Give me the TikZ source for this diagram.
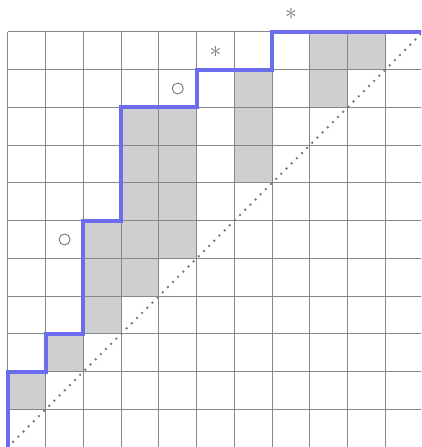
\documentclass[tikz,border=0pt]{standalone}
\usepackage{graphicx}
\definecolor{gridc}{RGB}{135,135,135}
\definecolor{cellc}{RGB}{206,207,209}
\definecolor{pathc}{RGB}{108,108,238}
\definecolor{markc}{RGB}{120,120,120}
\tikzset{
  gridline/.style={draw=gridc, line width=0.75pt},
  cellbox/.style={fill=cellc},
  diagline/.style={draw=markc, line width=2pt, line cap=round, dash pattern=on 0pt off 5.5pt},
  lattice/.style={draw=pathc, line width=3pt, line join=miter},
  ringmark/.style={circle, draw=markc, line width=0.7pt, minimum size=8.3pt, inner sep=0pt},
  starmark/.style={text=markc, inner sep=0pt}
}
\begin{document}
\begin{tikzpicture}[x=1cm,y=1cm]
\useasboundingbox (-0.2116,0) rectangle (10.952,11.847);
\clip (-0.2116,0) rectangle (10.952,11.847);
% shaded cells
\foreach \c/\r in {0/1, 1/2, 2/3, 2/4, 2/5, 3/4, 3/5, 3/6, 3/7, 3/8,
                   4/5, 4/6, 4/7, 4/8, 6/7, 6/8, 6/9, 8/9, 8/10, 9/10}
  \fill[cellbox] (\c,\r) rectangle ++(1,1);
% grid
\draw[gridline] (0,0) grid (11,11);
% diagonal
\draw[diagline] (0,0) -- (11,11);
% lattice path
\draw[lattice] (0,-0.2) -- (0,2) -- (1,2) -- (1,3) -- (2,3) -- (2,6) -- (3,6)
  -- (3,9) -- (5,9) -- (5,10) -- (7,10) -- (7,11) -- (11.5,11);
% markers
\node[ringmark] (o1) at (4.5,9.5) {};
\node[ringmark] (o2) at (1.5,5.5) {};
\node[starmark] (s1) at (5.5,10.47) {\scalebox{1.8}{$\ast$}};
\node[starmark] (s2) at (7.5,11.47) {\scalebox{1.8}{$\ast$}};
\end{tikzpicture}
\end{document}
